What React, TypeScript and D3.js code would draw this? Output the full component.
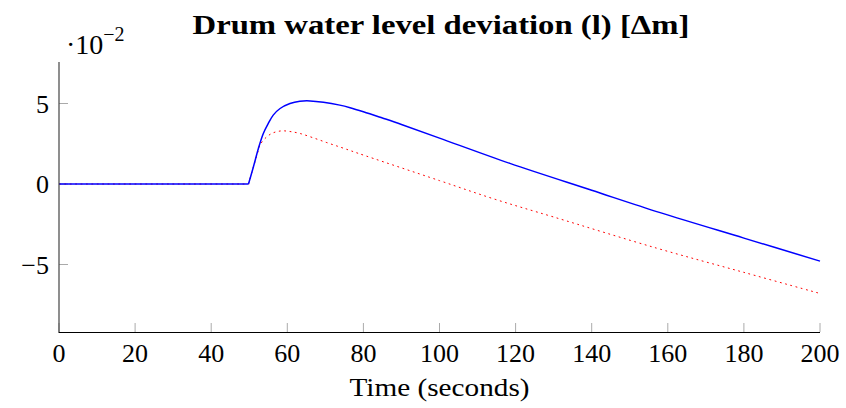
import React from "react";
import * as d3 from "d3";

const blueT = [0, 49.8, 51.1, 52.4, 53.7, 55.0, 56.3, 58.1, 60.7, 63.3, 66.0, 69.5, 73.8, 76.5, 80, 85, 90, 100, 118.5, 140, 158, 180, 200];
const blueV = [0, 0, 1.07, 2.21, 3.14, 3.76, 4.28, 4.69, 5.0, 5.14, 5.16, 5.08, 4.9, 4.74, 4.49, 4.1, 3.7, 2.85, 1.28, -0.39, -1.78, -3.36, -4.79];
const redT = [0, 49.8, 51.1, 52.4, 52.8, 54.6, 56.3, 58.5, 60.7, 63.3, 66.8, 70.4, 73.8, 76.5, 78.7, 100, 114.6, 130, 157, 180, 200];
const redV = [0, 0, 1.07, 2.1, 2.42, 2.93, 3.18, 3.3, 3.26, 3.14, 2.87, 2.57, 2.3, 2.08, 1.9, 0.21, -0.95, -2.05, -3.98, -5.49, -6.8];
const xTicks = [0, 20, 40, 60, 80, 100, 120, 140, 160, 180, 200];
const yTicks = [-5, 0, 5];

const W = 846, H = 408;
const left = 59, right = 820, top = 62, bottom = 332;
const FONT = '"Liberation Serif", "Times New Roman", Times, serif';

export default function App() {
  const x = d3.scaleLinear().domain([0, 200]).range([left, right]);
  const yMin = -5 - (bottom - 264.5) / 16.1;
  const yMax = 5 - (top - 103.5) / 16.1;
  const y = d3.scaleLinear().domain([yMin, yMax]).range([bottom, top]);

  const flatLine = d3
    .line<[number, number]>()
    .x((d) => x(d[0]))
    .y((d) => y(d[1]));
  const curveLine = d3
    .line<[number, number]>()
    .x((d) => x(d[0]))
    .y((d) => y(d[1]))
    .curve(d3.curveCatmullRom.alpha(0.5));

  const blue = blueT.map((t, i) => [t, blueV[i]] as [number, number]);
  const red = redT.map((t, i) => [t, redV[i]] as [number, number]);
  const split = (arr: [number, number][]) => {
    const k = arr.findIndex((d) => d[0] >= 49.8);
    return [arr.slice(0, k + 1), arr.slice(k)];
  };
  const [bFlat, bCurve] = split(blue);
  const [rFlat, rCurve] = split(red);

  return (
    <svg
      width={W}
      height={H}
      style={{ position: "absolute", left: 0, top: 0, background: "#fff", fontFamily: FONT }}
    >
      <text
        x={441}
        y={34}
        textAnchor="middle"
        fontWeight="bold"
        fontSize={27}
        textLength={497}
        lengthAdjust="spacingAndGlyphs"
      >
        Drum water level deviation (l) [Δm]
      </text>
      <text x={66} y={54} fontSize={28}>
        ·10
        <tspan dy={-13} fontSize={20}>−2</tspan>
      </text>

      {xTicks.map((t) => (
        <line key={"xt" + t} x1={x(t)} x2={x(t)} y1={bottom} y2={bottom - 9} stroke="#aaa" strokeWidth={1} />
      ))}
      {yTicks.map((v) => (
        <line key={"yt" + v} x1={left} x2={left + 9} y1={y(v)} y2={y(v)} stroke="#aaa" strokeWidth={1} />
      ))}

      <path d={flatLine(rFlat) || ""} fill="none" stroke="#ff0000" strokeWidth={1} strokeDasharray="1.8 3.6" />
      <path d={curveLine(rCurve) || ""} fill="none" stroke="#ff0000" strokeWidth={1} strokeDasharray="1.8 3.6" />
      <path d={flatLine(bFlat) || ""} fill="none" stroke="#0000ff" strokeWidth={1.5} />
      <path d={curveLine(bCurve) || ""} fill="none" stroke="#0000ff" strokeWidth={1.5} strokeLinejoin="round" />

      <line x1={left} x2={left} y1={top} y2={bottom} stroke="#444" strokeWidth={1.2} />
      <line x1={left - 0.5} x2={right} y1={bottom + 0.5} y2={bottom + 0.5} stroke="#000" strokeWidth={1.2} />

      {xTicks.map((t) => (
        <text key={"xl" + t} x={x(t)} y={362} textAnchor="middle" fontSize={26}>
          {t}
        </text>
      ))}
      {yTicks.map((v) => (
        <text key={"yl" + v} x={49} y={y(v) + 9} textAnchor="end" fontSize={26}>
          {v < 0 ? "−" + Math.abs(v) : v}
        </text>
      ))}

      <text x={439.5} y={396} textAnchor="middle" fontSize={26} textLength={180} lengthAdjust="spacingAndGlyphs">
        Time (seconds)
      </text>
    </svg>
  );
}
